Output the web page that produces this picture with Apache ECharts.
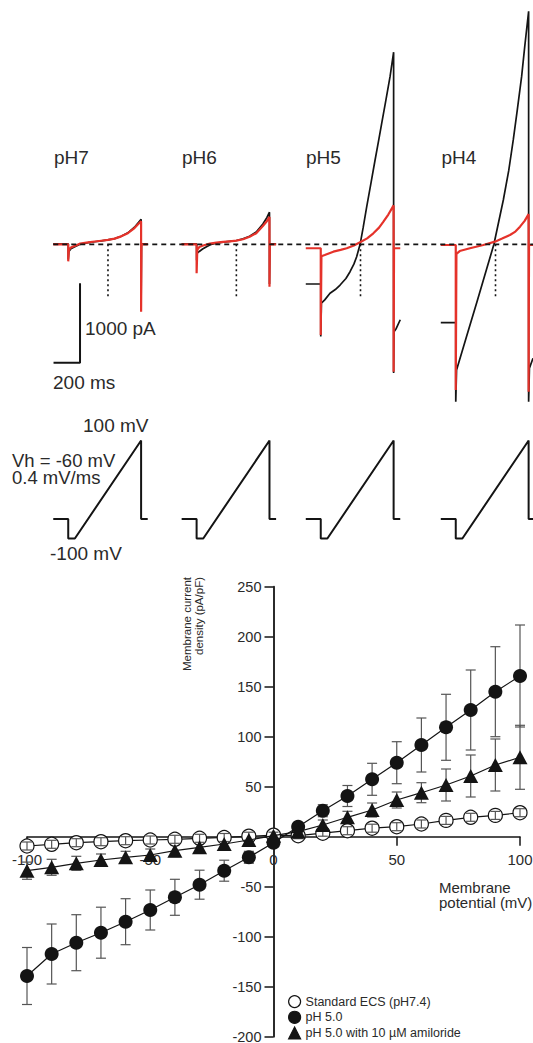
<!DOCTYPE html>
<html>
<head>
<meta charset="utf-8">
<title>Acid-evoked currents and I-V relation</title>
<script src="https://cdn.jsdelivr.net/npm/echarts@6/dist/echarts.min.js"></script>
<style>
html, body { margin: 0; padding: 0; background: #fff; }
#chart { width: 533px; height: 1043px; }
</style>
</head>
<body>
<div id="chart"></div>
<script>
// ---- ramp traces: [ms from step onset, pA] ----
const groupLabels = ['pH7', 'pH6', 'pH5', 'pH4'];
const groupOnsetMs = [515, 1484, 2421, 3440];

const blackPh7 = [[-113,5],[0,5],[0,-190],[5,-90],[20,-55],[50,-30],[90,0],[150,20],[200,32],[250,43],[300,55],[350,72],[400,102],[450,145],[500,215],[525,265],[550,315],[550,-760],[553,5],[600,5]];
const redPh7 = [[-113,0],[0,0],[0,-215],[5,-70],[20,-40],[50,-20],[90,10],[150,25],[200,35],[250,45],[300,55],[350,72],[400,100],[450,140],[500,205],[525,250],[550,290],[550,-850],[553,0],[600,0]];

const blackPh6 = [[-113,5],[0,5],[0,-200],[5,-110],[20,-90],[45,-60],[75,-30],[110,0],[150,15],[200,28],[250,38],[300,48],[350,68],[400,102],[450,155],[500,255],[530,335],[550,405],[550,-500],[553,5],[600,5]];
const redPh6 = [[-113,0],[0,0],[0,-365],[5,-70],[20,-35],[50,-15],[100,8],[150,20],[200,30],[250,38],[300,46],[350,64],[400,95],[450,140],[500,230],[530,290],[550,345],[550,-535],[553,0],[600,0]];

const blackPh5 = [[-113,-500],[0,-500],[0,-1160],[5,-740],[30,-700],[70,-617],[110,-570],[146,-513],[190,-430],[221,-345],[250,-250],[271,-156],[297,0],[320,210],[347,474],[380,780],[410,1062],[435,1290],[460,1524],[490,1800],[523,2111],[550,2420],[550,-1620],[553,-1100],[570,-1060],[600,-950]];
const redPh5 = [[-113,-50],[0,-50],[0,-1142],[5,-150],[30,-135],[95,-93],[150,-70],[196,-50],[250,-15],[297,25],[350,75],[397,138],[440,210],[473,285],[510,375],[550,490],[550,-1604],[553,-50],[600,-50]];

const blackPh4 = [[-113,-987],[0,-987],[0,-1982],[6,-1583],[82,-1159],[158,-735],[233,-311],[288,0],[359,558],[400,930],[434,1314],[465,1700],[497,2111],[520,2480],[550,2935],[550,-1982],[556,-1560],[583,-1436]];
const redPh4 = [[-113,-9],[0,-9],[0,-1835],[5,-120],[30,-85],[107,-50],[208,-9],[296,33],[350,72],[409,117],[450,160],[485,222],[520,295],[550,380],[550,-1856],[553,-9],[600,-9]];

const blackTraces = [blackPh7, blackPh6, blackPh5, blackPh4];
const redTraces = [redPh7, redPh6, redPh5, redPh4];

// dotted marker at 0 mV of the ramp
const zeroMvMs = 300;
const zeroMvMarkPa = -680;

// voltage protocol: [ms from step onset, mV]
const protocolMv = [[-113,-60],[0,-60],[0,-100],[50,-100],[550,100],[550,-60],[600,-60]];

// scale bar: 200 ms x 1000 pA
const scaleBarMs = [404, 604];
const scaleBarPa = [-1491, -491];

// ---- I-V relation ----
const voltages = [-100,-90,-80,-70,-60,-50,-40,-30,-20,-10,0,10,20,30,40,50,60,70,80,90,100];
const stdEcs = [-9.3,-7.6,-6,-5,-4,-3.3,-2.6,-1.6,-0.8,0.5,1.5,1,3.5,6,8.5,10,12.7,16.3,19.4,21.3,24];
const stdEcsSem = [4,4,4,4,4,4,4,4,4,4,3,3,3,4,4,4,4,4,4,4,4];
const ph50 = [-139.3,-117.3,-106,-96,-85,-73.3,-60.6,-48,-34,-20.6,-6,10,26,40.7,57.4,74,91.7,109.4,126.7,145,160.7];
const ph50Sem = [28.5,30,28,25.5,23,20,18,14.5,10.5,6,4,4,6,10.5,16,21,27,33,40,45,51];
const amiloride = [-34,-30.6,-26.6,-23.3,-20.6,-18.3,-14,-10.6,-7.3,-3.3,1,5,11.7,19.4,26.7,36.7,44,51.7,60.7,71.7,79.4];
const amilorideSem = [8.6,8,7,6,6,6,6,6,5,4,3,4,5,6,7,8,10,16,21,26,32];

const FONT = 'Liberation Sans, Arial, Helvetica, sans-serif';
const INK = '#141414';
const RED = '#e5322a';

const shift = (pts, off) => pts.map(p => [p[0] + off, p[1]]);
const pairs = ys => voltages.map((v, i) => [v, ys[i]]);
const errData = (ys, se) => voltages.map((v, i) => [v, ys[i] - se[i], ys[i] + se[i]]);

function errRender(params, api) {
    const x = api.value(0);
    const top = api.coord([x, api.value(2)]);
    const bot = api.coord([x, api.value(1)]);
    const w = 5;
    const st = { stroke: '#555', lineWidth: 1.2 };
    return {
        type: 'group',
        children: [
            { type: 'line', shape: { x1: top[0], y1: top[1], x2: bot[0], y2: bot[1] }, style: st },
            { type: 'line', shape: { x1: top[0] - w, y1: top[1], x2: top[0] + w, y2: top[1] }, style: st },
            { type: 'line', shape: { x1: bot[0] - w, y1: bot[1], x2: bot[0] + w, y2: bot[1] }, style: st }
        ]
    };
}

const series = [];

// zero current line across all traces
series.push({
    type: 'line', xAxisIndex: 0, yAxisIndex: 0, silent: true, symbol: 'none', z: 5,
    data: [[402, 0], [4023, 0]],
    lineStyle: { color: INK, width: 1.8, type: [5, 4] }
});

groupLabels.forEach((g, i) => {
    const off = groupOnsetMs[i];
    series.push({
        type: 'line', xAxisIndex: 0, yAxisIndex: 0, silent: true, symbol: 'none', z: 2,
        data: shift(blackTraces[i], off),
        lineStyle: { color: INK, width: 1.7 }
    });
    series.push({
        type: 'line', xAxisIndex: 0, yAxisIndex: 0, silent: true, symbol: 'none', z: 3,
        data: shift(redTraces[i], off),
        lineStyle: { color: RED, width: 2.2 }
    });
    series.push({
        type: 'line', xAxisIndex: 0, yAxisIndex: 0, silent: true, symbol: 'none', z: 4,
        data: [[zeroMvMs + off, 0], [zeroMvMs + off, zeroMvMarkPa]],
        lineStyle: { color: INK, width: 1.6, type: [2, 3] }
    });
    series.push({
        type: 'line', xAxisIndex: 1, yAxisIndex: 1, silent: true, symbol: 'none',
        data: shift(protocolMv, off),
        lineStyle: { color: INK, width: 2 }
    });
});

// scale bar
series.push({
    type: 'line', xAxisIndex: 0, yAxisIndex: 0, silent: true, symbol: 'none',
    data: [[scaleBarMs[0], scaleBarPa[0]], [scaleBarMs[1], scaleBarPa[0]], [scaleBarMs[1], scaleBarPa[1]]],
    lineStyle: { color: INK, width: 2 }
});

// I-V curves
series.push({
    name: 'Standard ECS (pH7.4)', type: 'line', xAxisIndex: 2, yAxisIndex: 2, z: 2,
    data: pairs(stdEcs), symbol: 'circle', symbolSize: 14,
    itemStyle: { color: '#fff', borderColor: INK, borderWidth: 1.2 },
    lineStyle: { color: INK, width: 1.2 }
});
series.push({
    type: 'custom', xAxisIndex: 2, yAxisIndex: 2, z: 3, silent: true,
    renderItem: errRender, data: errData(stdEcs, stdEcsSem)
});
series.push({
    type: 'custom', xAxisIndex: 2, yAxisIndex: 2, z: 1, silent: true,
    renderItem: errRender, data: errData(ph50, ph50Sem)
});
series.push({
    type: 'custom', xAxisIndex: 2, yAxisIndex: 2, z: 1, silent: true,
    renderItem: errRender, data: errData(amiloride, amilorideSem)
});
series.push({
    name: 'pH 5.0', type: 'line', xAxisIndex: 2, yAxisIndex: 2, z: 4,
    data: pairs(ph50), symbol: 'circle', symbolSize: 14,
    itemStyle: { color: INK, borderColor: INK, borderWidth: 0 },
    lineStyle: { color: INK, width: 1.2 }
});
series.push({
    name: 'pH 5.0 with 10 µM amiloride', type: 'line', xAxisIndex: 2, yAxisIndex: 2, z: 4,
    data: pairs(amiloride), symbol: 'triangle', symbolSize: [15, 14],
    itemStyle: { color: INK, borderColor: INK, borderWidth: 0 },
    lineStyle: { color: INK, width: 1.2 }
});

const txt = (text, x, y, size, extra) => ({
    type: 'text', x: x, y: y, silent: true,
    style: Object.assign({ text: text, fontSize: size, fontFamily: FONT, fill: '#2a2a2a', align: 'left', verticalAlign: 'middle' }, extra || {})
});

const graphics = [
    txt('pH7', 54, 157, 19),
    txt('pH6', 182, 157, 19),
    txt('pH5', 306, 157, 19),
    txt('pH4', 441.5, 157, 19),
    txt('1000 pA', 85, 328, 19),
    txt('200 ms', 53, 382, 19),
    txt('100 mV', 83, 425, 19),
    txt('Vh = -60 mV\n0.4 mV/ms', 12, 468.5, 18.5, { lineHeight: 17 }),
    txt('-100 mV', 50, 553.5, 19),
    Object.assign(txt('Membrane current', 187, 577, 11.5, { align: 'right' }), { rotation: Math.PI / 2 }),
    Object.assign(txt('density (pA/pF)', 199, 577, 11.5, { align: 'right' }), { rotation: Math.PI / 2 }),
    txt('Membrane\npotential (mV)', 439, 894.5, 15, { lineHeight: 15 })
];

const hiddenX = { type: 'value', min: 0, max: 4023, show: false };

const option = {
    animation: false,
    backgroundColor: '#fff',
    grid: [
        { left: 0, right: 0, top: 6.1, height: 397, outerBoundsMode: 'none' },
        { left: 0, right: 0, top: 430.7, height: 117.6, outerBoundsMode: 'none' },
        { left: 27, right: 13, top: 586.7, height: 450, outerBoundsMode: 'none' }
    ],
    xAxis: [
        Object.assign({ gridIndex: 0 }, hiddenX),
        Object.assign({ gridIndex: 1 }, hiddenX),
        {
            gridIndex: 2, type: 'value', min: -100, max: 100, interval: 50,
            position: 'bottom', offset: -200,
            axisLine: { show: true, onZero: false, lineStyle: { color: INK, width: 1.5 } },
            axisTick: { show: true, length: 9, lineStyle: { color: INK, width: 1.5 } },
            axisLabel: { color: '#2a2a2a', fontSize: 15, fontFamily: FONT, margin: 15 },
            splitLine: { show: false }
        }
    ],
    yAxis: [
        { gridIndex: 0, type: 'value', min: -2000, max: 3000, show: false },
        { gridIndex: 1, type: 'value', min: -120, max: 120, show: false },
        {
            gridIndex: 2, type: 'value', min: -200, max: 250, interval: 50,
            position: 'left', offset: -246.5,
            axisLine: { show: true, onZero: false, lineStyle: { color: INK, width: 1.8 } },
            axisTick: { show: true, length: 9, lineStyle: { color: INK, width: 1.5 } },
            axisLabel: {
                color: '#2a2a2a', fontSize: 14.5, lineHeight: 12, fontFamily: FONT, margin: 12,
                padding: [0, 0, 4, 0],
                formatter: v => (v === 0 ? '' : v)
            },
            splitLine: { show: false }
        }
    ],
    legend: {
        orient: 'vertical', left: 288, top: 995, height: 60, padding: 0, itemGap: 2.5,
        itemWidth: 12, itemHeight: 12, selectedMode: false,
        itemStyle: { borderWidth: 1.2 },
        textStyle: { fontSize: 12.5, lineHeight: 12.5, color: '#2a2a2a', fontFamily: FONT },
        data: [
            { name: 'Standard ECS (pH7.4)', icon: 'circle' },
            { name: 'pH 5.0', icon: 'circle' },
            { name: 'pH 5.0 with 10 µM amiloride', icon: 'triangle' }
        ]
    },
    graphic: graphics,
    series: series
};

const myChart = echarts.init(document.getElementById('chart'), null, { renderer: 'svg' });
myChart.setOption(option);
</script>
</body>
</html>
